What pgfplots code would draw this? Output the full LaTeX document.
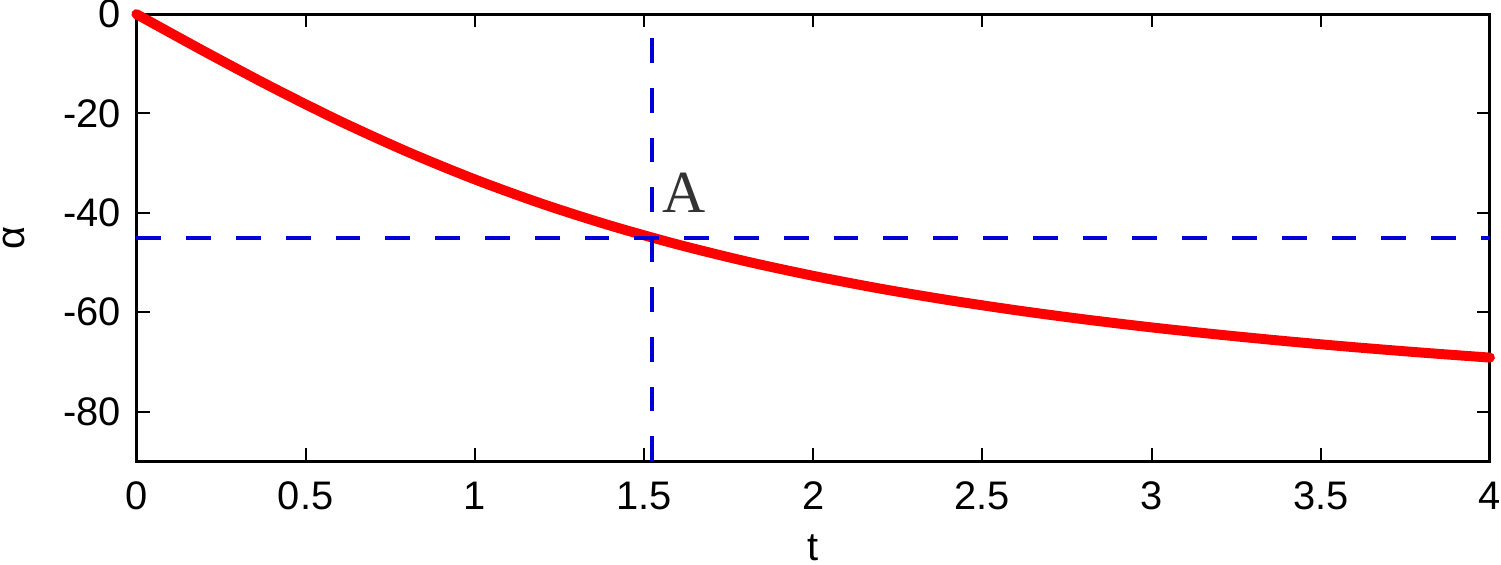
\documentclass[border=0pt]{standalone}
\usepackage{fontspec}
\setmainfont{Liberation Sans}
\newfontfamily\seriffont{Liberation Serif}
\usepackage{pgfplots}
\pgfplotsset{compat=1.18}
\definecolor{myblue}{rgb}{0,0,0.85}
\begin{document}
\fontsize{12}{14}\selectfont
\begin{tikzpicture}
\begin{axis}[
  scale only axis,
  width=407.7pt, height=134.7pt,
  xmin=0, xmax=4, ymin=-90, ymax=0,
  xtick={0,0.5,...,4},
  ytick={-80,-60,-40,-20,0},
  xticklabels={0,0.5,1,1.5,2,2.5,3,3.5,4},
  tick align=inside,
  major tick length=4pt,
  axis line style={line width=0.9pt},
  every tick/.style={black, line width=0.6pt},
  /pgf/number format/assume math mode=true,
  ticklabel style={font=\fontsize{12}{14}\selectfont, inner sep=0pt},
  xticklabel style={anchor=north, yshift=-6pt},
  yticklabel style={anchor=east, xshift=-4.5pt},
  xlabel={t}, ylabel={α},
  xlabel style={at={(axis description cs:0.5,0)}, anchor=north, inner sep=1pt, yshift=-21pt},
  ylabel style={at={(axis description cs:0,0.5)}, rotate=0, anchor=south, inner sep=1pt, yshift=32.3pt, xshift=0pt},
  clip=false,
]
\addplot[red, line width=3pt, line cap=round, smooth] coordinates {
(0,0) (0.2,-7.47) (0.4,-14.69) (0.6,-21.48) (0.8,-27.68) (1.0,-33.26)
(1.2,-38.20) (1.4,-42.55) (1.6,-46.37) (1.8,-49.73) (2.0,-52.67)
(2.2,-55.27) (2.4,-57.56) (2.6,-59.60) (2.8,-61.42) (3.0,-63.05)
(3.2,-64.51) (3.4,-65.84) (3.6,-67.04) (3.8,-68.13) (4.0,-69.13)};
\addplot[myblue, line width=1.2pt, dash pattern=on 7.5pt off 7.5pt] coordinates {(0,-45) (4,-45)};
\addplot[myblue, line width=1.2pt, dash pattern=on 7.5pt off 7.5pt] coordinates {(1.525,-90) (1.525,0)};
\node[font=\seriffont\fontsize{18}{20}\selectfont, text=black!80] at (axis cs:1.62,-36) {A};
\end{axis}
\end{tikzpicture}
\end{document}
